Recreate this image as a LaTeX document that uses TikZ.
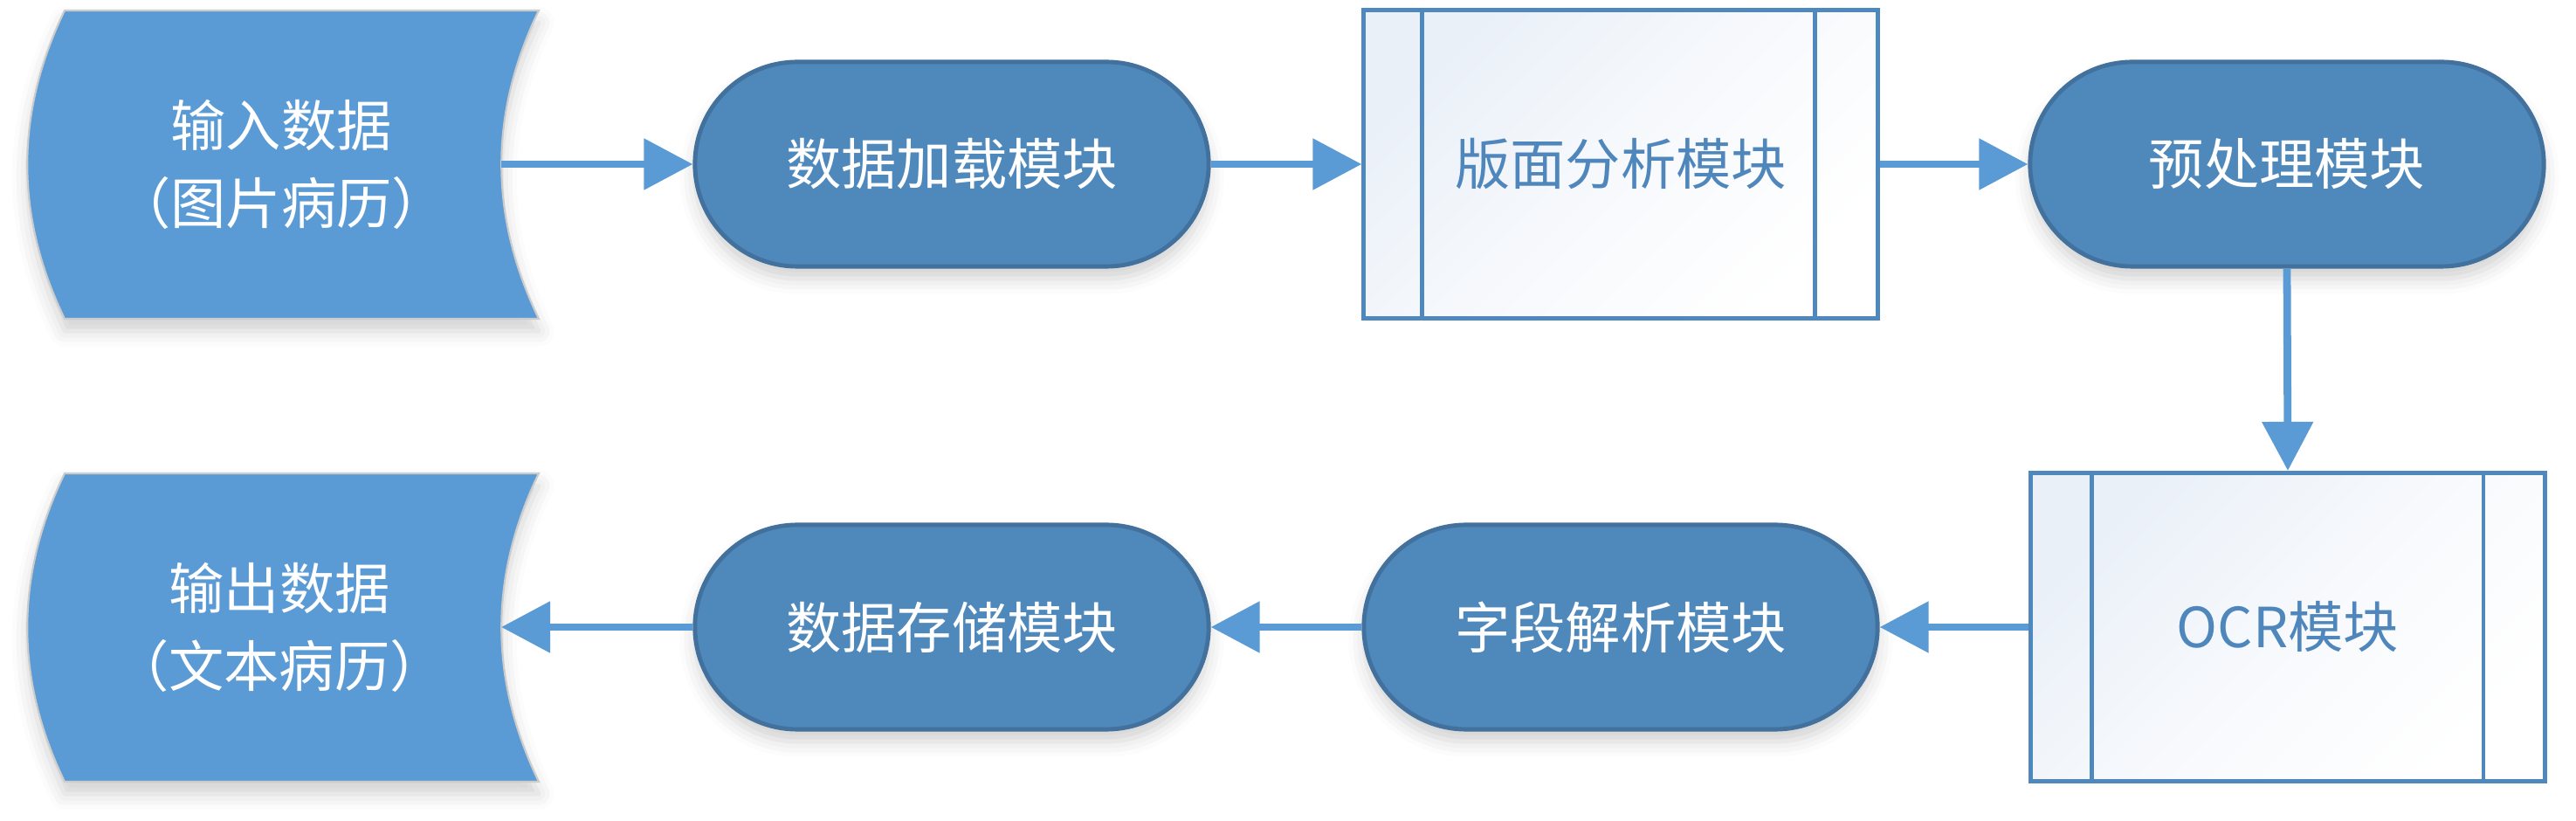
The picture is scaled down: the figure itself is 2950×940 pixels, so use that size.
\documentclass[tikz,border=0pt]{standalone}
\usepackage{fontspec}
\newfontfamily\cjk{Noto Sans CJK SC}
\usetikzlibrary{arrows.meta,shadows.blur}
\definecolor{databl}{HTML}{5B9BD5}
\definecolor{pillfill}{HTML}{4F88BB}
\definecolor{pilledge}{HTML}{41719C}
\definecolor{rectedge}{HTML}{4F88BD}
\definecolor{recttext}{HTML}{4F87BC}
\definecolor{rectshade}{HTML}{EAF0F8}
\definecolor{arrowbl}{HTML}{5B9BD5}
\begin{document}
\begin{tikzpicture}[x=0.01cm,y=-0.01cm,
  font=\cjk\fontsize{18}{25.3}\selectfont,
  softshadow/.style={blur shadow={shadow xshift=0pt,shadow yshift=-4pt,shadow blur radius=5pt,shadow opacity=18}},
  datashape/.style={draw=black!20,line width=0.6pt,fill=databl,softshadow},
  datatext/.style={text=white,align=center,inner sep=0pt},
  pillnode/.style={draw=pilledge,line width=1.4pt,fill=pillfill,text=white,
    rounded corners=1.17cm,minimum width=5.88cm,minimum height=2.34cm,inner sep=0pt,softshadow},
  procnode/.style={draw=rectedge,line width=1.4pt,top color=rectshade,bottom color=white,
    middle color=white!60!rectshade,shading angle=45,text=recttext,minimum width=5.88cm,minimum height=3.53cm,inner sep=0pt},
  procline/.style={draw=rectedge,line width=1.2pt},
  flow/.style={draw=arrowbl,line width=2.5pt,-{Triangle[length=0.56cm,width=0.57cm]}}
]
\useasboundingbox (0,0) rectangle (2950,940);

% input data shape
\path[datashape] (74,12) -- (617,12) .. controls (560,130) and (560,247) .. (617,365)
  -- (74,365) .. controls (17,247) and (17,130) .. (74,12) -- cycle;
\coordinate (inR) at (574,188);
\node[datatext] (intext) at (322,188) {输入数据\\（图片病历）};

% output data shape
\path[datashape] (74,542) -- (617,542) .. controls (560,660) and (560,777) .. (617,895)
  -- (74,895) .. controls (17,777) and (17,660) .. (74,542) -- cycle;
\coordinate (outR) at (574,718);
\node[datatext] (outtext) at (320,718) {输出数据\\（文本病历）};

% top row
\node[pillnode] (load) at (1090,188) {数据加载模块};
\node[procnode] (layout) at (1856,188) {版面分析模块};
\node[pillnode] (pre) at (2619,188) {预处理模块};

% bottom row
\node[procnode] (ocr) at (2620,718) {OCR模块};
\node[pillnode] (parse) at (1856,718) {字段解析模块};
\node[pillnode] (store) at (1090,718) {数据存储模块};

% inner vertical lines of process boxes
\draw[procline] ([xshift=0.69cm]layout.north west) -- ([xshift=0.69cm]layout.south west);
\draw[procline] ([xshift=-0.74cm]layout.north east) -- ([xshift=-0.74cm]layout.south east);
\draw[procline] ([xshift=0.72cm]ocr.north west) -- ([xshift=0.72cm]ocr.south west);
\draw[procline] ([xshift=-0.73cm]ocr.north east) -- ([xshift=-0.73cm]ocr.south east);

% connectors
\draw[flow] (inR) -- (load.west);
\draw[flow] (load.east) -- (layout.west);
\draw[flow] (layout.east) -- (pre.west);
\draw[flow] (pre.south) -- (ocr.north);
\draw[flow] (ocr.west) -- (parse.east);
\draw[flow] (parse.west) -- (store.east);
\draw[flow] (store.west) -- (outR);
\end{tikzpicture}
\end{document}
